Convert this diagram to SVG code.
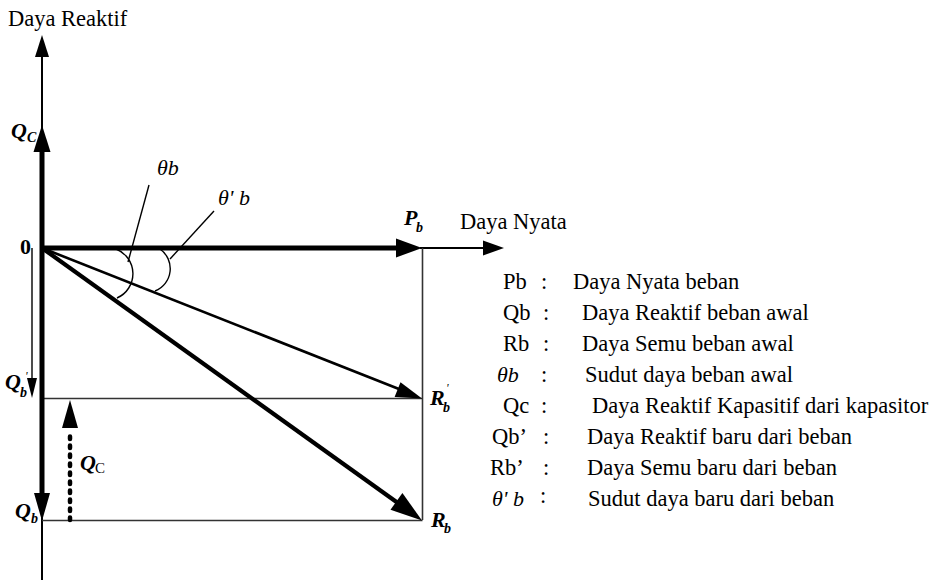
<svg xmlns="http://www.w3.org/2000/svg" width="938" height="580" viewBox="0 0 938 580" font-family="'Liberation Serif', Tinos, 'DejaVu Serif', serif">
  <style>
    text { font-family: "Liberation Serif", Tinos, "DejaVu Serif", serif; fill: #000; }
    .t { font-size: 22.5px; }
    .lab { font-size: 22px; font-style: italic; font-weight: bold; }
    .sub { font-size: 14px; font-style: italic; font-weight: bold; }
    .ital { font-size: 22px; font-style: italic; }
    .thin { stroke: #000; stroke-width: 2; fill: none; }
    .thick { stroke: #000; stroke-width: 5; fill: none; }
    .frame { stroke: #333; stroke-width: 1.6; fill: none; }
    .lead { stroke: #000; stroke-width: 1.4; fill: none; }
    .head { fill: #000; stroke: none; }
    .dash { stroke: #000; stroke-width: 4.5; stroke-dasharray: 2.5 6.5; stroke-linecap: round; fill: none; }
  </style>

  <rect width="938" height="580" fill="#fff"/>

  <!-- axes -->
  <g id="axis-reaktif">
    <line class="thin" x1="42" y1="50" x2="42" y2="580"/>
    <polygon class="head" points="42,35 35,57 49,57"/>
    <text class="t" x="8" y="26">Daya Reaktif</text>
  </g>
  <g id="axis-nyata">
    <line class="thin" x1="420" y1="248" x2="490" y2="248"/>
    <polygon class="head" points="504,248 483,240.5 483,255.5"/>
    <text class="t" x="460" y="229">Daya Nyata</text>
  </g>

  <g id="connectors">
    <!-- frame lines -->
    <line class="frame" x1="422.5" y1="248" x2="422.5" y2="520"/>
    <line class="frame" x1="44" y1="398.5" x2="422.5" y2="398.5"/>
    <line class="frame" x1="42" y1="520.5" x2="422.5" y2="520.5"/>

    <!-- Qc (capacitor) on reactive axis -->
    <line class="thick" x1="42" y1="150" x2="42" y2="495"/>
    <polygon class="head" points="42,125 33.5,152 50.5,152"/>
    <!-- Qb downward -->
    <polygon class="head" points="42,521 34,493 50,493"/>

    <!-- Pb -->
    <line class="thick" x1="40" y1="248" x2="400" y2="248"/>
    <polygon class="head" points="422,248 396,238.5 396,257.5"/>

    <!-- Qb' -->
    <line class="lead" x1="32" y1="248" x2="32" y2="382"/>
    <polygon class="head" points="32,398 27,378 37,378"/>

    <!-- R'b -->
    <line x1="42" y1="248" x2="404" y2="391" stroke="#000" stroke-width="2.6"/>
    <polygon class="head" points="422,398.5 400.5,382.2 394.6,397.1"/>

    <!-- Rb -->
    <line x1="42" y1="248" x2="400" y2="504.5" stroke="#000" stroke-width="4.2"/>
    <polygon class="head" points="422,520.5 390.5,509.7 402.4,493"/>

    <!-- Qc dashed shift -->
    <line class="dash" x1="70" y1="520" x2="70" y2="432"/>
    <polygon class="head" points="70,400 62,428 78,428"/>

    <!-- angle arcs and leaders -->
    <path class="lead" d="M116,249 A26.5,26.5 0 0 1 117,298"/>
    <path class="lead" d="M160,249 A24,24 0 0 1 155,291"/>
    <line class="lead" x1="149" y1="185" x2="128" y2="262"/>
    <line class="lead" x1="214" y1="211" x2="170" y2="259"/>
  </g>

  <!-- vector labels -->
  <g id="label-qc-top">
    <text class="lab" x="11" y="138">Q</text><text class="sub" x="27" y="142">C</text>
  </g>
  <g id="label-origin">
    <text x="20" y="254" font-size="22" font-weight="bold">0</text>
  </g>
  <g id="label-qb-prime">
    <text class="lab" x="5" y="389">Q</text><text class="sub" x="20" y="397">b</text>
    <text x="25" y="380" font-size="12" font-style="italic">'</text>
  </g>
  <g id="label-qc-dashed">
    <text x="80" y="470" font-size="22" font-style="italic" font-weight="bold">Q</text>
    <text x="95" y="473" font-size="15">C</text>
  </g>
  <g id="label-qb">
    <text class="lab" x="15" y="518">Q</text><text class="sub" x="31" y="523">b</text>
  </g>
  <g id="label-pb">
    <text class="lab" x="404" y="225">P</text><text class="sub" x="416" y="232">b</text>
  </g>
  <g id="label-rb-prime">
    <text class="lab" x="430" y="405">R</text><text class="sub" x="443" y="412">b</text>
    <text x="446" y="392" font-size="12" font-style="italic">'</text>
  </g>
  <g id="label-rb">
    <text class="lab" x="431" y="527">R</text><text class="sub" x="444" y="533">b</text>
  </g>
  <g id="label-theta">
    <text class="ital" x="157" y="175">θb</text>
    <text class="ital" x="218" y="205">θ' b</text>
  </g>

  <!-- legend -->
  <g id="legend">
    <text class="t" x="503" y="289">Pb</text><text class="t" x="541" y="289">:</text><text class="t" x="573" y="289">Daya Nyata beban</text>
    <text class="t" x="503" y="320">Qb</text><text class="t" x="543" y="320">:</text><text class="t" x="582" y="320">Daya Reaktif beban awal</text>
    <text class="t" x="503" y="351">Rb</text><text class="t" x="543" y="351">:</text><text class="t" x="582" y="351">Daya Semu beban awal</text>
    <text class="ital" x="497" y="382">θb</text><text class="t" x="541" y="382">:</text><text class="t" x="585" y="382">Sudut daya beban awal</text>
    <text class="t" x="503" y="413">Qc</text><text class="t" x="541" y="413">:</text><text class="t" x="592" y="413">Daya Reaktif Kapasitif dari kapasitor</text>
    <text class="t" x="492" y="444">Qb’</text><text class="t" x="543" y="444">:</text><text class="t" x="587" y="444">Daya Reaktif baru dari beban</text>
    <text class="t" x="490" y="475">Rb’</text><text class="t" x="543" y="475">:</text><text class="t" x="587" y="475">Daya Semu baru dari beban</text>
    <text class="ital" x="492" y="506">θ' b</text><text class="t" x="540" y="503">:</text><text class="t" x="588" y="506">Sudut daya baru dari beban</text>
  </g>
</svg>
